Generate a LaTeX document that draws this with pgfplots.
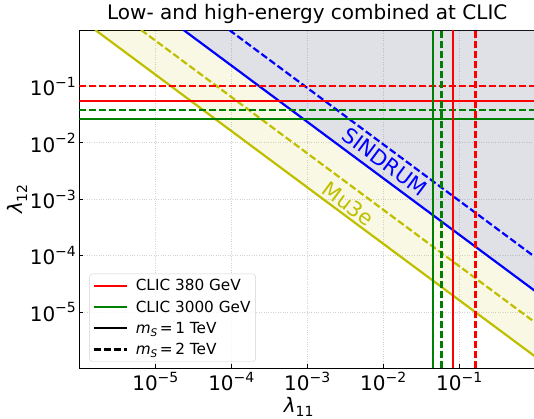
\documentclass[border=0pt]{standalone}
\usepackage{fontspec}
\setmainfont{DejaVu Sans}
\usepackage{pgfplots}
\pgfplotsset{compat=1.18}
\definecolor{mplred}{RGB}{255,0,0}
\definecolor{mplgreen}{RGB}{0,128,0}
\definecolor{mplblue}{RGB}{0,0,255}
\definecolor{mply}{RGB}{191,191,0}
\definecolor{grayfill}{RGB}{100,100,135}
\newcommand\tl[1]{10\raisebox{0.42em}{\fontsize{14bp}{14bp}\selectfont −#1}}
\newcommand\sub[2][14bp]{\raisebox{-0.22em}{\fontsize{#1}{#1}\selectfont #2}}
\begin{document}
\begin{tikzpicture}
\begin{axis}[
  at={(0,0)}, anchor=south west,
  scale only axis, width=455.7bp, height=338.3bp,
  xmode=log, ymode=log,
  xmin=1e-6, xmax=1, ymin=1e-6, ymax=1,
  xtick={1e-5,1e-4,1e-3,1e-2,1e-1},
  xticklabels={\tl{5},\tl{4},\tl{3},\tl{2},\tl{1}},
  ytick={1e-5,1e-4,1e-3,1e-2,1e-1},
  yticklabels={\tl{5},\tl{4},\tl{3},\tl{2},\tl{1}},
  xminorticks=false, yminorticks=false,
  tick align=inside, xtick pos=bottom, ytick pos=left,
  major tick length=4bp,
  tick style={black, line width=0.8bp},
  axis line style={black, line width=0.9bp},
  ticklabel style={font=\fontsize{20bp}{24bp}\selectfont},
  grid=major,
  major grid style={dotted, color=gray!35, line width=0.7bp},
  title={Low- and high-energy combined at CLIC},
  title style={font=\fontsize{20bp}{24bp}\selectfont, yshift=-3bp},
  xlabel={\textit{λ}\sub{11}},
  ylabel={\textit{λ}\sub{12}},
  label style={font=\fontsize{20bp}{24bp}\selectfont},
  xlabel style={at={(axis description cs:0.481,-0.114)}, anchor=center},
  ylabel style={at={(axis description cs:-0.136,0.5)}, anchor=center},
  legend style={at={(0.022,0.0195)}, anchor=south west, draw=gray!35,
    rounded corners=3bp, fill=white, fill opacity=0.8, text opacity=1,
    font=\fontsize{15.3bp}{18bp}\selectfont, inner xsep=3bp, inner ysep=3.5bp,
    row sep=4.5bp, cells={anchor=west}},
  legend image code/.code={\draw[#1] (0bp,0bp) -- (33bp,0bp); \path (39bp,0bp);},
  every axis plot/.append style={line width=2.2bp},
  dsh/.style={dash pattern=on 7bp off 3bp},
]
\addlegendimage{mplred}
\addlegendentry{CLIC 380 GeV}
\addlegendimage{mplgreen}
\addlegendentry{CLIC 3000 GeV}
\addlegendimage{black}
\addlegendentry{\textit{m}\sub[10.5bp]{\textit{S}}\,=\,1 TeV}
\addlegendimage{black,dsh}
\addlegendentry{\textit{m}\sub[10.5bp]{\textit{S}}\,=\,2 TeV}

% excluded regions
\addplot[forget plot, draw=none, fill=grayfill, fill opacity=0.2] coordinates {(2.35e-5,1) (1,1) (1,2.35e-5)};
\addplot[forget plot, draw=none, fill=mply, fill opacity=0.1] coordinates {(1.62e-6,1) (2.35e-5,1) (1,2.35e-5) (1,1.62e-6)};

% Mu3e
\addplot[forget plot, mply] coordinates {(1.62e-6,1) (1,1.62e-6)};
\addplot[forget plot, mply, dsh] coordinates {(6.5e-6,1) (1,6.5e-6)};
% SINDRUM
\addplot[forget plot, mplblue] coordinates {(2.35e-5,1) (1,2.35e-5)};
\addplot[forget plot, mplblue, dsh] coordinates {(9.4e-5,1) (1,9.4e-5)};

% CLIC horizontal
\addplot[forget plot, mplred, dsh] coordinates {(1e-6,0.1) (1,0.1)};
\addplot[forget plot, mplred] coordinates {(1e-6,0.0557) (1,0.0557)};
\addplot[forget plot, mplgreen, dsh] coordinates {(1e-6,0.0386) (1,0.0386)};
\addplot[forget plot, mplgreen] coordinates {(1e-6,0.0268) (1,0.0268)};
% CLIC vertical
\addplot[forget plot, mplgreen] coordinates {(0.045,1e-6) (0.045,1)};
\addplot[forget plot, mplgreen, dsh] coordinates {(0.0585,1e-6) (0.0585,1)};
\addplot[forget plot, mplred] coordinates {(0.083,1e-6) (0.083,1)};
\addplot[forget plot, mplred, dsh] coordinates {(0.164,1e-6) (0.164,1)};

\node[mplblue, rotate=-36.75, font=\fontsize{21bp}{24bp}\selectfont] at (axis cs:0.01057,0.0046) {SINDRUM};
\node[mply, rotate=-36.75, font=\fontsize{21bp}{24bp}\selectfont] at (axis cs:0.00347,8.2e-4) {Mu3e};
\end{axis}
\pgfresetboundingbox
\path (-79.4bp,-50.7bp) rectangle (454.6bp,368.3bp);
\end{tikzpicture}
\end{document}
